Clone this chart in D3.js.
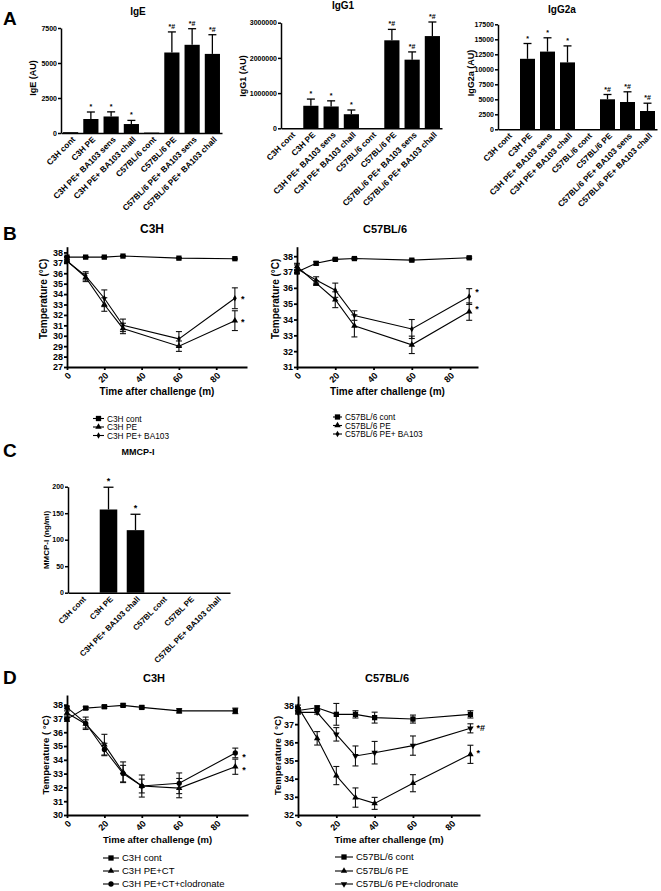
<!DOCTYPE html>
<html><head><meta charset="utf-8">
<script src="https://cdn.jsdelivr.net/npm/d3@7/dist/d3.min.js"></script>
<style>body{margin:0;background:#fff}svg{display:block}</style>
</head><body><svg id="c" width="661" height="891"></svg>
<script>
// ---------- DATA ----------
const aCategories = ["C3H cont","C3H PE","C3H PE+ BA103 sens","C3H PE+ BA103 chall","C57BL/6 cont","C57BL/6 PE","C57BL/6 PE+ BA103 sens","C57BL/6 PE+ BA103 chall"];
const aSig = ["","*","*","*","","*#","*#","*#"];
const igeMean = [60, 1000, 1180, 640, 30, 5750, 6300, 5650];
const igeErr  = [0, 500, 330, 260, 0, 1470, 1150, 1370];
const igeTicks = [0, 2500, 5000, 7500];
const igg1Mean = [0, 640000, 620000, 400000, 0, 2500000, 1950000, 2620000];
const igg1Err  = [0, 190000, 160000, 120000, 0, 310000, 220000, 400000];
const igg1Ticks = [0, 1000000, 2000000, 3000000];
const igg2aMean = [0, 11750, 12950, 11150, 0, 5000, 4550, 3050];
const igg2aErr  = [0, 2550, 2300, 2750, 0, 800, 1700, 1300];
const igg2aTicks = [0, 2500, 5000, 7500, 10000, 12500, 15000, 17500];

const bTimes = [0, 10, 20, 30, 60, 90];
const bC3hCont = [37.55, 37.55, 37.55, 37.65, 37.45, 37.4];
const bC3hContErr = [0.05, 0.05, 0.05, 0.05, 0.05, 0.05];
const bC3hPE = [37.2, 35.6, 33.0, 30.7, 29.0, 31.45];
const bC3hPEErr = [0.1, 0.4, 0.65, 0.5, 0.5, 0.95];
const bC3hBA = [37.15, 35.75, 33.6, 31.0, 29.7, 33.6];
const bC3hBAErr = [0.1, 0.4, 0.8, 0.6, 0.7, 1.0];
const bC57Cont = [37.0, 37.55, 37.8, 37.85, 37.75, 37.9];
const bC57ContErr = [0.1, 0.1, 0.05, 0.05, 0.05, 0.05];
const bC57PE = [37.35, 36.3, 35.25, 33.6, 32.4, 34.5];
const bC57PEErr = [0.2, 0.15, 0.5, 0.7, 0.55, 0.55];
const bC57BA = [37.2, 36.5, 35.85, 34.25, 33.4, 35.45];
const bC57BAErr = [0.25, 0.2, 0.45, 0.3, 0.6, 0.5];

const cCategories = ["C3H cont","C3H PE","C3H PE+ BA103 chall","C57BL cont","C57BL PE","C57BL PE+ BA103 chall"];
const mmcpMean = [0, 157, 118, 0, 0, 0];
const mmcpErr  = [0, 42, 30, 0, 0, 0];
const mmcpSig  = ["","*","*","","",""];
const mmcpTicks = [0, 50, 100, 150, 200];

const dTimes = [0, 10, 20, 30, 40, 60, 90];
const dC3hCont = [36.95, 37.75, 37.85, 37.95, 37.8, 37.55, 37.55];
const dC3hContErr = [0.15, 0.1, 0.1, 0.1, 0.1, 0.15, 0.2];
const dC3hCT = [37.4, 36.6, 35.1, 33.1, 32.1, 31.95, 33.5];
const dC3hCTErr = [0.15, 0.3, 0.75, 0.75, 0.8, 0.7, 0.55];
const dC3hClod = [37.8, 36.65, 34.75, 33.0, 32.1, 32.3, 34.5];
const dC3hClodErr = [0.1, 0.45, 0.45, 0.6, 0.5, 0.75, 0.35];
const dC57Cont = [37.75, 37.9, 37.54, 37.54, 37.36, 37.28, 37.54];
const dC57ContErr = [0.15, 0.1, 0.6, 0.2, 0.3, 0.22, 0.2];
const dC57PE = [37.95, 36.22, 34.17, 32.96, 32.64, 33.75, 35.34];
const dC57PEErr = [0.1, 0.37, 0.5, 0.53, 0.33, 0.47, 0.5];
const dC57Clod = [37.65, 37.65, 36.44, 35.25, 35.43, 35.82, 36.77];
const dC57ClodErr = [0.1, 0.1, 0.37, 0.55, 0.62, 0.53, 0.25];

const xTicksTime = [0, 20, 40, 60, 80];

// ---------- DRAW ----------
const FONT = "'Liberation Sans', Arial, Helvetica, sans-serif";
const svg = d3.select("#c");

function txt(x, y, s, size, weight, anchor, rot) {
  const t = svg.append("text").attr("x", x).attr("y", y).text(s)
    .attr("font-family", FONT).attr("font-size", size).attr("font-weight", weight || "normal")
    .attr("text-anchor", anchor || "start").attr("fill", "#000");
  if (rot) t.attr("transform", `rotate(${rot},${x},${y})`);
  return t;
}
function styleAxis(sel, sw, fs) {
  sel.select(".domain").attr("stroke", "#000").attr("stroke-width", sw);
  sel.selectAll(".tick line").attr("stroke", "#000").attr("stroke-width", sw);
  sel.selectAll(".tick text").attr("fill", "#000").attr("font-family", FONT)
    .attr("font-weight", "bold").attr("font-size", fs);
}

function barChart(o) {
  const g = svg.append("g");
  const x = d3.scaleBand().domain(o.cats).range([o.left, o.right]).paddingInner(o.pin).paddingOuter(o.pout);
  const y = d3.scaleLinear().domain(o.yDomain).range([o.bottom, o.top]);
  const bw = x.bandwidth();
  o.cats.forEach((c, i) => {
    if (!o.err[i]) return;
    const cx = x(c) + bw / 2, ye = y(o.mean[i] + o.err[i]);
    g.append("line").attr("x1", cx).attr("x2", cx).attr("y1", y(o.mean[i])).attr("y2", ye).attr("stroke", "#000").attr("stroke-width", 1.3);
    g.append("line").attr("x1", cx - o.cap).attr("x2", cx + o.cap).attr("y1", ye).attr("y2", ye).attr("stroke", "#000").attr("stroke-width", 1.3);
  });
  g.selectAll("rect").data(o.cats).join("rect")
    .attr("x", d => x(d)).attr("width", bw)
    .attr("y", (d, i) => y(o.mean[i])).attr("height", (d, i) => y(0) - y(o.mean[i]))
    .attr("fill", "#000");
  o.cats.forEach((c, i) => {
    if (!o.sig[i]) return;
    const cx = x(c) + bw / 2;
    g.append("text").attr("x", cx).attr("y", y(o.mean[i] + o.err[i]) - 3).text(o.sig[i])
      .attr("font-family", FONT).attr("font-size", o.sigFs).attr("font-weight", "bold").attr("text-anchor", "middle");
  });
  const ya = g.append("g").attr("transform", `translate(${o.left},0)`)
    .call(d3.axisLeft(y).tickValues(o.yTicks).tickSize(3).tickSizeOuter(0).tickPadding(1).tickFormat(d3.format("d")));
  styleAxis(ya, 1.5, o.tickFs);
  const xa = g.append("g").attr("transform", `translate(0,${o.bottom})`)
    .call(d3.axisBottom(x).tickSize(0).tickSizeOuter(0));
  styleAxis(xa, 1.5, o.labFs);
  xa.selectAll(".tick text").attr("x", 0).attr("y", 0).attr("dy", "0.35em")
    .attr("text-anchor", "end").attr("transform", "translate(3,5) rotate(-45)");
  txt(o.titleX, o.titleY, o.title, o.titleFs, "bold", "middle");
  txt(o.ylabX, o.ylabY, o.ylab, o.ylabFs, "bold", "middle", -90);
}

function symbolPath(kind, size) {
  const t = {square: d3.symbolSquare, triangle: d3.symbolTriangle, tdown: d3.symbolTriangle,
             diamond: d3.symbolDiamond, circle: d3.symbolCircle}[kind];
  return d3.symbol().type(t).size(size)();
}

function lineChart(o) {
  const g = svg.append("g");
  const x = d3.scaleLinear().domain(o.xDomain).range([o.left, o.right]);
  const y = d3.scaleLinear().domain(o.yDomain).range([o.bottom, o.top]);
  o.series.forEach(s => {
    o.times.forEach((t, i) => {
      const e = s.err[i]; if (!e) return;
      const cx = x(t), y1 = y(s.vals[i] - e), y2 = y(s.vals[i] + e);
      g.append("line").attr("x1", cx).attr("x2", cx).attr("y1", y1).attr("y2", y2).attr("stroke", "#111").attr("stroke-width", 1.1);
      [y1, y2].forEach(yy => g.append("line").attr("x1", cx - 3).attr("x2", cx + 3).attr("y1", yy).attr("y2", yy).attr("stroke", "#111").attr("stroke-width", 1.1));
    });
    g.append("path").datum(s.vals)
      .attr("d", d3.line().x((d, i) => x(o.times[i])).y(d => y(d)))
      .attr("fill", "none").attr("stroke", "#000").attr("stroke-width", 1.1);
    g.selectAll(null).data(s.vals).join("path")
      .attr("transform", (d, i) => `translate(${x(o.times[i])},${y(d)})${s.marker === "tdown" ? " rotate(180)" : ""}`)
      .attr("d", symbolPath(s.marker, s.size)).attr("fill", "#000");
  });
  (o.notes || []).forEach(n => {
    g.append("text").attr("x", x(90) + n.dx).attr("y", y(n.v) + 4).text(n.text)
      .attr("font-family", FONT).attr("font-size", 9).attr("font-weight", "bold");
  });
  const ya = g.append("g").attr("transform", `translate(${o.left},0)`)
    .call(d3.axisLeft(y).tickValues(o.yTicks).tickSize(3).tickSizeOuter(0).tickPadding(1).tickFormat(d3.format("d")));
  styleAxis(ya, 1.8, o.tickFs);
  const xa = g.append("g").attr("transform", `translate(0,${o.bottom})`)
    .call(d3.axisBottom(x).tickValues(xTicksTime).tickSize(3).tickSizeOuter(0).tickFormat(d3.format("d")));
  styleAxis(xa, 1.8, o.tickFs);
  xa.selectAll(".tick text").attr("x", 0).attr("y", 0).attr("dy", "0.35em")
    .attr("text-anchor", "end").attr("transform", "translate(2,7) rotate(-45)");
  txt(o.titleX, o.titleY, o.title, o.titleFs, "bold", "middle");
  txt(o.ylabX, (o.top + o.bottom) / 2 + o.ylabDy, o.ylab, o.ylabFs, "bold", "middle", -90);
  txt((o.left + o.right) / 2 + o.xlabDx, o.xlabY, "Time after challenge (m)", o.xlabFs, "bold", "middle");
  // legend
  o.series.forEach((s, i) => {
    const yy = o.legY[i];
    g.append("line").attr("x1", o.legX).attr("x2", o.legX + o.legW).attr("y1", yy).attr("y2", yy).attr("stroke", "#000").attr("stroke-width", 1.1);
    g.append("path").attr("transform", `translate(${o.legX + o.legW / 2},${yy})${s.marker === "tdown" ? " rotate(180)" : ""}`)
      .attr("d", symbolPath(s.marker, s.size)).attr("fill", "#000");
    g.append("text").attr("x", o.legX + o.legW + 3).attr("y", yy + 3).text(s.name)
      .attr("font-family", FONT).attr("font-size", o.legFs);
  });
}

// panel letters
txt(3, 25, "A", 19, "bold");
txt(3, 240, "B", 19, "bold");
txt(3, 457, "C", 19, "bold");
txt(3, 684, "D", 19, "bold");

const commonA = {pin: 0.25, pout: 0.1, cap: 4, sigFs: 7, tickFs: 7, labFs: 8.3, titleFs: 10, ylabFs: 9};
barChart(Object.assign({}, commonA, {cats: aCategories, mean: igeMean, err: igeErr, sig: aSig,
  left: 61, right: 222, bottom: 133, top: 28, yDomain: [0, 7500], yTicks: igeTicks,
  title: "IgE", titleX: 138, titleY: 15, ylab: "IgE (AU)", ylabX: 36, ylabY: 78}));
barChart(Object.assign({}, commonA, {cats: aCategories, mean: igg1Mean, err: igg1Err, sig: aSig,
  left: 281, right: 442, bottom: 128.3, top: 22.7, yDomain: [0, 3000000], yTicks: igg1Ticks,
  title: "IgG1", titleX: 343, titleY: 9, ylab: "IgG1 (AU)", ylabX: 246, ylabY: 76}));
barChart(Object.assign({}, commonA, {cats: aCategories, mean: igg2aMean, err: igg2aErr, sig: aSig,
  left: 498, right: 657, bottom: 129.3, top: 24.3, yDomain: [0, 17500], yTicks: igg2aTicks,
  title: "IgG2a", titleX: 562, titleY: 13, ylab: "IgG2a (AU)", ylabX: 474, ylabY: 73}));

lineChart({times: bTimes, left: 67, right: 247, xDomain: [0, 96.5], bottom: 367, top: 246.7, yDomain: [27, 38.55],
  yTicks: d3.range(27, 39), tickFs: 9, title: "C3H", titleX: 152, titleY: 233, titleFs: 12,
  ylab: "Temperature (°C)", ylabX: 47, ylabDy: -8, ylabFs: 10, xlabDx: 0, xlabY: 395, xlabFs: 10,
  series: [
    {name: "C3H cont", vals: bC3hCont, err: bC3hContErr, marker: "square", size: 28},
    {name: "C3H PE", vals: bC3hPE, err: bC3hPEErr, marker: "triangle", size: 18},
    {name: "C3H PE+ BA103", vals: bC3hBA, err: bC3hBAErr, marker: "diamond", size: 12}],
  notes: [{v: 33.6, text: "*", dx: 6}, {v: 31.45, text: "*", dx: 6}],
  legX: 93, legW: 11, legY: [418.5, 427, 435.5], legFs: 8.3});

lineChart({times: bTimes, left: 297, right: 478, xDomain: [0, 94.6], bottom: 367, top: 246.7, yDomain: [31, 38.6],
  yTicks: d3.range(31, 39), tickFs: 9, title: "C57BL/6", titleX: 385, titleY: 233, titleFs: 11,
  ylab: "Temperature (°C)", ylabX: 279, ylabDy: -8, ylabFs: 10, xlabDx: 0, xlabY: 395, xlabFs: 10,
  series: [
    {name: "C57BL/6 cont", vals: bC57Cont, err: bC57ContErr, marker: "square", size: 28},
    {name: "C57BL/6 PE", vals: bC57PE, err: bC57PEErr, marker: "triangle", size: 18},
    {name: "C57BL/6 PE+ BA103", vals: bC57BA, err: bC57BAErr, marker: "diamond", size: 12}],
  notes: [{v: 35.8, text: "*", dx: 6}, {v: 34.7, text: "*", dx: 6}],
  legX: 333, legW: 9, legY: [417, 425.5, 434], legFs: 8.3});

barChart({cats: cCategories, mean: mmcpMean, err: mmcpErr, sig: mmcpSig,
  left: 68, right: 230, bottom: 592.7, top: 486.7, yDomain: [0, 200], yTicks: mmcpTicks,
  pin: 0.35, pout: 0.175, cap: 5, sigFs: 9, tickFs: 7, labFs: 8, titleFs: 9,
  title: "MMCP-I", titleX: 138, titleY: 455, ylab: "MMCP-I (ng/ml)", ylabX: 49, ylabY: 540, ylabFs: 8});

lineChart({times: dTimes, left: 67, right: 248, xDomain: [0, 96.8], bottom: 815, top: 695, yDomain: [30, 38.7],
  yTicks: d3.range(30, 39), tickFs: 9, title: "C3H", titleX: 154, titleY: 682, titleFs: 11,
  ylab: "Temperature ( °C)", ylabX: 49, ylabDy: 0, ylabFs: 9.5, xlabDx: 0, xlabY: 843, xlabFs: 9.5,
  series: [
    {name: "C3H cont", vals: dC3hCont, err: dC3hContErr, marker: "square", size: 28},
    {name: "C3H PE+CT", vals: dC3hCT, err: dC3hCTErr, marker: "triangle", size: 18},
    {name: "C3H PE+CT+clodronate", vals: dC3hClod, err: dC3hClodErr, marker: "circle", size: 22}],
  notes: [{v: 34.3, text: "*", dx: 7}, {v: 33.35, text: "*", dx: 7}],
  legX: 103, legW: 16, legY: [858, 871, 884], legFs: 9.5});

lineChart({times: dTimes, left: 298, right: 480, xDomain: [0, 95], bottom: 815, top: 696, yDomain: [32, 38.55],
  yTicks: d3.range(32, 39), tickFs: 9, title: "C57BL/6", titleX: 387, titleY: 682, titleFs: 11,
  ylab: "Temperature ( °C)", ylabX: 281, ylabDy: 0, ylabFs: 9.5, xlabDx: 0, xlabY: 843, xlabFs: 9.5,
  series: [
    {name: "C57BL/6 cont", vals: dC57Cont, err: dC57ContErr, marker: "square", size: 28},
    {name: "C57BL/6 PE", vals: dC57PE, err: dC57PEErr, marker: "triangle", size: 18},
    {name: "C57BL/6 PE+clodronate", vals: dC57Clod, err: dC57ClodErr, marker: "tdown", size: 18}],
  notes: [{v: 36.85, text: "*#", dx: 6}, {v: 35.45, text: "*", dx: 6}],
  legX: 335, legW: 18, legY: [857, 871, 884], legFs: 9.5});
</script></body></html>
